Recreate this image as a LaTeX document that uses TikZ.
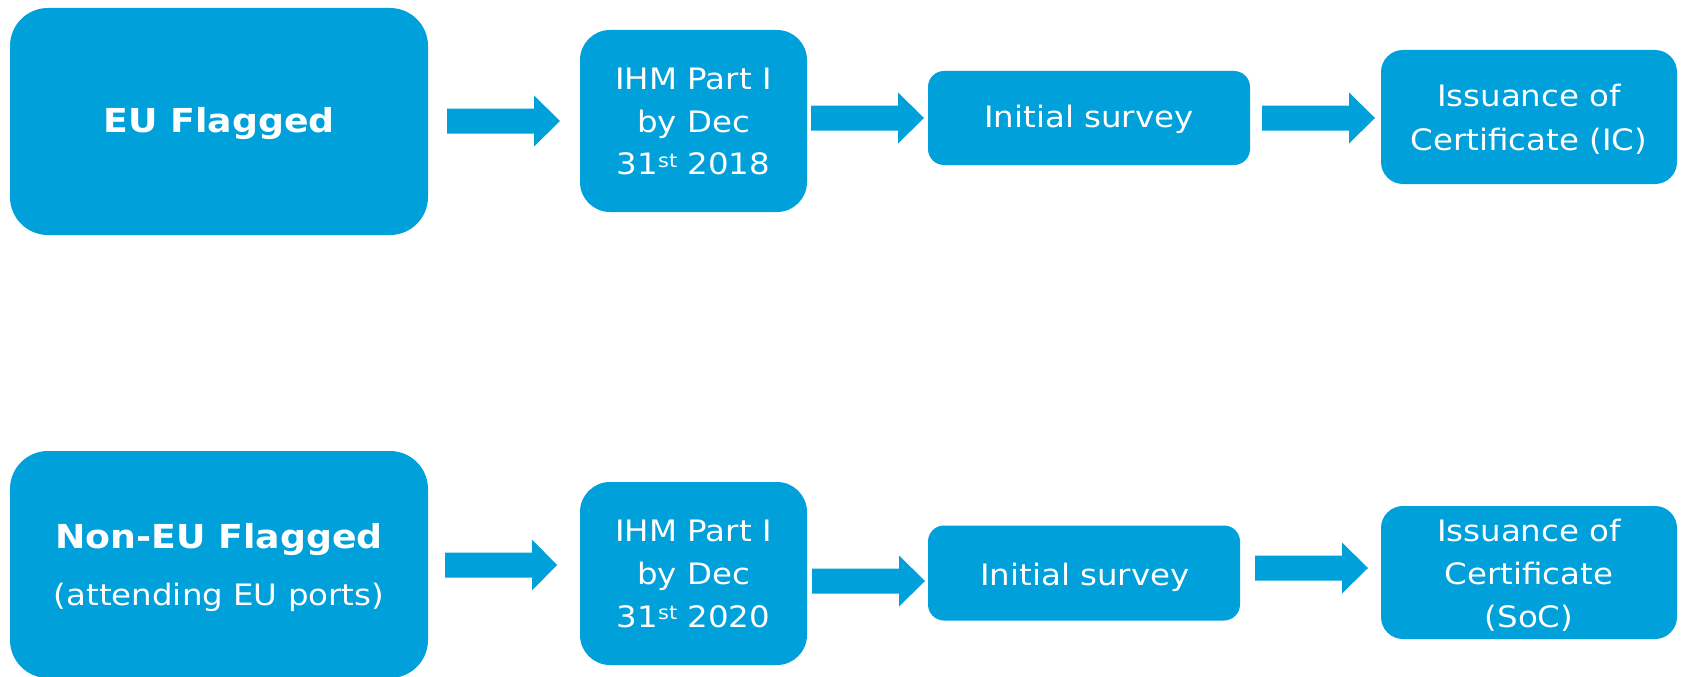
\documentclass[tikz,border=0pt]{standalone}
\usepackage{fontspec}
\setmainfont{DejaVu Sans}[FakeStretch=1.1]
\definecolor{blk}{RGB}{0,160,218}
\newcommand{\reg}{\fontsize{29.5}{43}\selectfont}
\newcommand{\bld}{\fontsize{33}{43}\selectfont\bfseries}
\newcommand{\supst}{\raisebox{7.5pt}{\fontsize{19}{19}\selectfont st}}
\newcommand{\blockarrow}[5]{% name, x1, x2, tip, yc
  \fill[blk] (#2,#5-12.5) -- (#3,#5-12.5) -- (#3,#5-25.5) -- (#4,#5)
    -- (#3,#5+25.5) -- (#3,#5+12.5) -- (#2,#5+12.5) -- cycle;
  \coordinate (#1) at (#4,#5);}
\begin{document}
\begin{tikzpicture}[x=1pt,y=-1pt,
  box/.style={fill=blk,draw=none,inner sep=0pt,rectangle},
  txt/.style={text=white,inner sep=0pt,anchor=base,font=\reg},
  btxt/.style={text=white,inner sep=0pt,anchor=base,font=\bld}]
\useasboundingbox (0,0) rectangle (1681,677);
% top row boxes
\node[box,minimum width=418pt,minimum height=227pt,rounded corners=38pt] (eu) at (219,121.5) {};
\node[box,minimum width=227pt,minimum height=182pt,rounded corners=30pt] (ihmA) at (693.5,121) {};
\node[box,minimum width=322pt,minimum height=94pt,rounded corners=16pt] (initA) at (1089,118) {};
\node[box,minimum width=296pt,minimum height=134pt,rounded corners=22pt] (issA) at (1529,117) {};
% bottom row boxes
\node[box,minimum width=418pt,minimum height=227pt,rounded corners=38pt] (noneu) at (219,564.5) {};
\node[box,minimum width=227pt,minimum height=183pt,rounded corners=30pt] (ihmB) at (693.5,573.5) {};
\node[box,minimum width=312pt,minimum height=95pt,rounded corners=16pt] (initB) at (1084,573) {};
\node[box,minimum width=296pt,minimum height=133pt,rounded corners=22pt] (issB) at (1529,572.5) {};
% arrows
\blockarrow{a1}{447}{534}{560}{121}
\blockarrow{a2}{811}{898}{924}{118}
\blockarrow{a3}{1262}{1349}{1375}{118}
\blockarrow{a4}{445}{532}{557}{565}
\blockarrow{a5}{812}{899}{925}{581}
\blockarrow{a6}{1255}{1342}{1368}{568}
% texts top
\node[btxt] (euT) at (219,132) {EU Flagged};
\node[txt] (ihmA1) at (693.5,89) {IHM Part I};
\node[txt] (ihmA2) at (693.5,132) {by Dec};
\node[txt] (ihmA3) at (693.5,174.5) {31\supst{} 2018};
\node[txt] (initAT) at (1089,127.5) {Initial survey};
\node[txt] (issA1) at (1529,106) {Issuance of};
\node[txt] (issA2) at (1529,150) {Certificate (IC)};
% texts bottom
\node[btxt] (noneuT) at (219,548) {Non-EU Flagged};
\node[txt] (noneuS) at (219,605) {(attending EU ports)};
\node[txt] (ihmB1) at (693.5,541.5) {IHM Part I};
\node[txt] (ihmB2) at (693.5,584.5) {by Dec};
\node[txt] (ihmB3) at (693.5,627) {31\supst{} 2020};
\node[txt] (initBT) at (1085,585) {Initial survey};
\node[txt] (issB1) at (1529,541.5) {Issuance of};
\node[txt] (issB2) at (1529,584) {Certificate};
\node[txt] (issB3) at (1529,627.5) {(SoC)};
\end{tikzpicture}
\end{document}
